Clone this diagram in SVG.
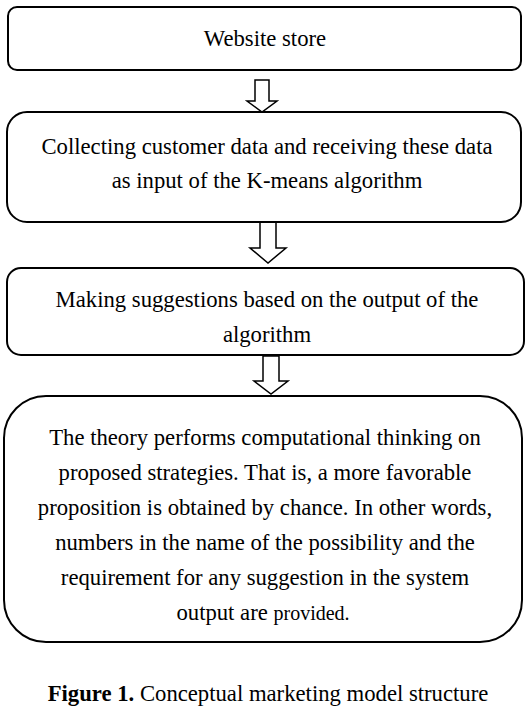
<svg xmlns="http://www.w3.org/2000/svg" width="530" height="715" viewBox="0 0 530 715">
<style>
.box{fill:#fff;stroke:#000;stroke-width:2}
.arr{fill:#fff;stroke:#000;stroke-width:1.5;stroke-linejoin:miter}
text{font-family:"Liberation Serif","Times New Roman",serif;font-size:22.7px;fill:#000;text-anchor:middle}
</style>
<rect width="530" height="715" fill="#fff"/>
<g id="connectors">
<polygon class="arr" points="255,80 269,80 269,101 277,101 262,112 247,101 255,101"/>
<polygon class="arr" points="260,222 276,222 276,248 286,248 268,263 250,248 260,248"/>
<polygon class="arr" points="263,356 279,356 279,381 288,381 271,394 254,381 263,381"/>
</g>
<g id="node1">
<rect class="box" x="8" y="7" width="513" height="63" rx="9"/>
<text x="265" y="46">Website store</text>
</g>
<g id="node2">
<rect class="box" x="7" y="112" width="514" height="110" rx="20"/>
<text x="267" y="154">Collecting customer data and receiving these data</text>
<text x="267" y="188">as input of the K-means algorithm</text>
</g>
<g id="node3">
<rect class="box" x="7" y="268" width="517" height="87" rx="14"/>
<text x="267" y="307">Making suggestions based on the output of the</text>
<text x="267" y="342">algorithm</text>
</g>
<g id="node4">
<rect class="box" x="4" y="396" width="518" height="246" rx="42"/>
<text x="265" y="445">The theory performs computational thinking on</text>
<text x="265" y="480">proposed strategies. That is,  a more favorable</text>
<text x="265" y="515">proposition is obtained by chance. In other words,</text>
<text x="265" y="550">numbers in the name of the possibility and the</text>
<text x="265" y="585">requirement for any suggestion in the system</text>
<text x="263" y="620">output are <tspan font-size="20">provided.</tspan></text>
</g>
<g id="caption">
<text x="268" y="701"><tspan font-weight="bold">Figure 1.</tspan> Conceptual marketing model structure</text>
</g>
</svg>
